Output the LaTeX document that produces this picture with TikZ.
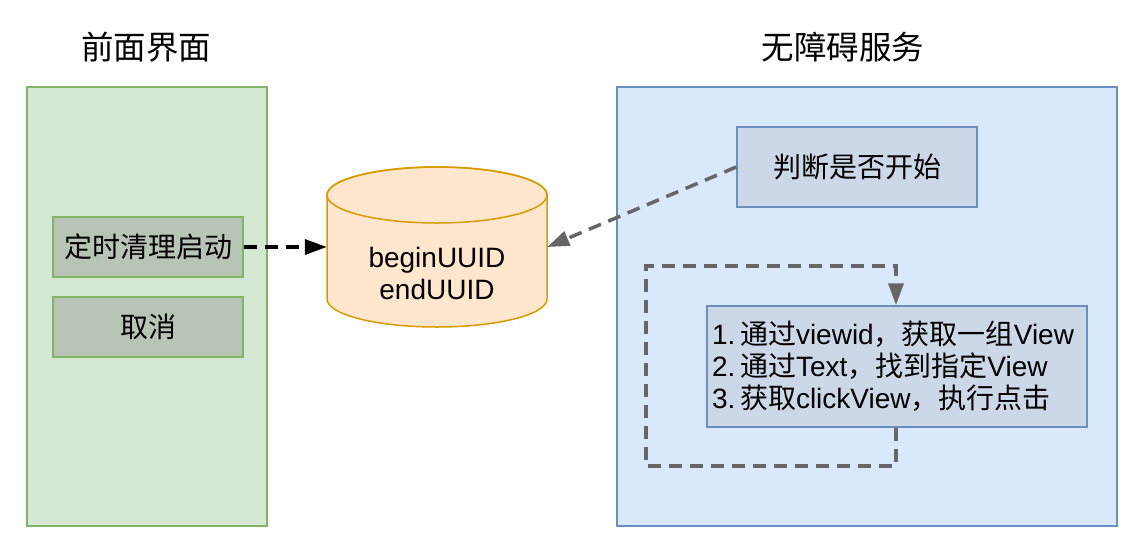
\documentclass[tikz,border=0pt]{standalone}
\usepackage{fontspec}
\setmainfont{Liberation Sans}
\newfontfamily\cjk{Noto Sans CJK SC}
\usetikzlibrary{arrows.meta}

\newcommand{\zh}[1]{{\cjk #1}}

\definecolor{leftfill}{HTML}{D5E8D4}
\definecolor{leftline}{HTML}{82B366}
\definecolor{btnfill}{HTML}{B8C4B5}
\definecolor{rightfill}{HTML}{DAE8FC}
\definecolor{rightline}{HTML}{6C8EBF}
\definecolor{stepfill}{HTML}{CCD8E8}
\definecolor{dbfill}{HTML}{FFE6CC}
\definecolor{dbline}{HTML}{D79B00}
\definecolor{flowgray}{HTML}{666666}

\tikzset{
  bigfont/.style={font=\fontsize{32.5}{38}\selectfont},
  txtfont/.style={font=\fontsize{28}{32}\selectfont},
  panel/.style={draw, line width=1.5pt, minimum width=240pt, minimum height=439pt, inner sep=0pt},
  btnbox/.style={draw=leftline, fill=btnfill, line width=1.5pt, minimum width=190pt, minimum height=60pt, txtfont},
  stepbox/.style={draw=rightline, fill=stepfill, line width=1.5pt, txtfont},
  flowline/.style={line width=3.5pt, dash pattern=on 13pt off 8pt},
}

\begin{document}
\begin{tikzpicture}[x=1pt, y=-1pt]
    \useasboundingbox (0,0) rectangle (1134,550);

    % Panels
    \node[panel, draw=leftline, fill=leftfill] (front) at (147,306.5) {};
    \node[panel, draw=rightline, fill=rightfill, minimum width=500pt] (service) at (867,306.5) {};
    \node[bigfont] (fronttitle) at (146,47) {\zh{前面界面}};
    \node[bigfont] (servicetitle) at (843,47) {\zh{无障碍服务}};

    % Buttons
    \node[btnbox] (start) at (148,247) {\zh{定时清理启动}};
    \node[btnbox] (cancel) at (148,327) {\zh{取消}};

    % Storage cylinder
    \draw[draw=dbline, fill=dbfill, line width=1.5pt] (327,195) -- (327,299)
        arc[start angle=180, end angle=0, x radius=110, y radius=28] -- (547,195)
        arc[start angle=0, end angle=-180, x radius=110, y radius=28] -- cycle;
    \draw[draw=dbline, line width=1.5pt] (437,195) ellipse[x radius=110, y radius=28];
    \node[minimum width=220pt, minimum height=160pt, inner sep=0pt] (db) at (437,247) {};
    \node[txtfont, align=center] (dbtext) at (437,273) {beginUUID\\endUUID};

    % Service steps
    \node[stepbox, minimum width=240pt, minimum height=80pt] (check) at (857,167) {\zh{判断是否开始}};
    \node[stepbox, minimum width=380pt, minimum height=121pt, text width=370pt, inner xsep=5pt, align=left] (steps) at (897,366.5)
        {1.\,\zh{通过}viewid\zh{，获取一组}View\\2.\,\zh{通过}Text\zh{，找到指定}View\\3.\,\zh{获取}clickView\zh{，执行点击}};

    % Loop corners
    \coordinate (c1) at (896,466);
    \coordinate (c2) at (646,466);
    \coordinate (c3) at (646,266);
    \coordinate (c4) at (896,266);

    % Connectors
    \draw[flowline, black, -{Triangle[length=22pt, width=15pt]}] (start) -- (db);
    \draw[flowline, flowgray, -{Triangle[length=22pt, width=15pt]}] (check.west) -- (db.east);
    \draw[flowline, flowgray, -{Triangle[length=22pt, width=15pt]}] (steps.south -| c1) -- (c1) -- (c2) -- (c3) -- (c4) -- (steps.north -| c4);
\end{tikzpicture}
\end{document}
